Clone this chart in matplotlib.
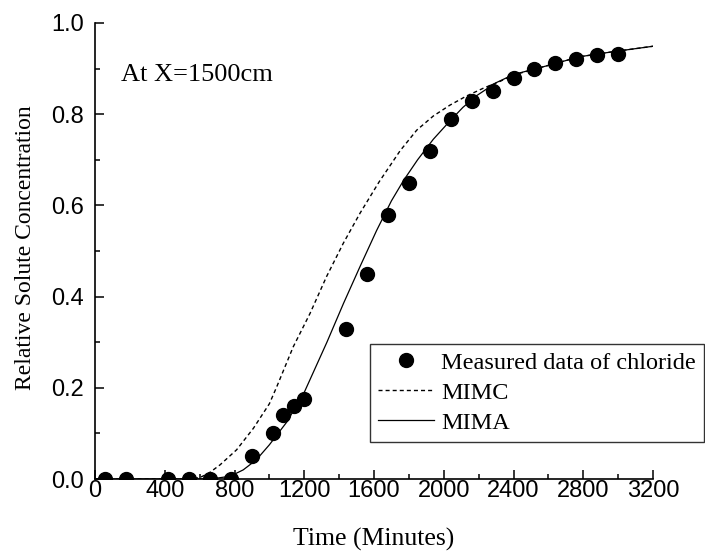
import matplotlib
matplotlib.use("Agg")
import matplotlib.pyplot as plt
from matplotlib.ticker import MultipleLocator, FormatStrFormatter

# measured chloride breakthrough at X = 1500 cm
t_meas = [60, 180, 420, 540, 660, 780, 900, 1020, 1080, 1140, 1200, 1440, 1560,
          1680, 1800, 1920, 2040, 2160, 2280, 2400, 2520, 2640, 2760, 2880, 3000]
c_meas = [0, 0, 0, 0, 0, 0, 0.05, 0.10, 0.14, 0.16, 0.175, 0.33, 0.45,
          0.58, 0.65, 0.72, 0.79, 0.83, 0.85, 0.88, 0.90, 0.913, 0.92, 0.93, 0.932]

# MIMC model curve
t_mimc = [0, 550, 600, 650, 717, 812, 908, 1000, 1042, 1137, 1233, 1328, 1424, 1520,
          1630, 1750, 1845, 1940, 2036, 2131, 2227, 2323, 2400, 2590, 2780, 2970, 3200]
c_mimc = [0, 0, 0.003, 0.012, 0.031, 0.064, 0.111, 0.165, 0.202, 0.29, 0.363, 0.444, 0.517, 0.583,
          0.652, 0.72, 0.765, 0.796, 0.82, 0.84, 0.857, 0.872, 0.886, 0.906, 0.926, 0.937, 0.949]

# MIMA model curve
t_mima = [0, 600, 700, 775, 850, 925, 1000, 1100, 1200, 1330, 1425, 1520, 1615,
          1700, 1770, 1850, 1940, 2035, 2110, 2190, 2300, 2400, 2590, 2780, 2970, 3200]
c_mima = [0, 0, 0.002, 0.006, 0.02, 0.042, 0.075, 0.125, 0.19, 0.30, 0.385, 0.466, 0.545,
          0.61, 0.655, 0.70, 0.745, 0.785, 0.815, 0.841, 0.869, 0.887, 0.906, 0.926, 0.937, 0.949]

serif = "Liberation Serif"
sans = "Liberation Sans"

fig = plt.figure(figsize=(7.05, 5.54), dpi=100)
ax = fig.add_axes([95 / 705, 75 / 554, 558 / 705, 456 / 554])

ax.plot(t_meas, c_meas, "o", color="black", markersize=10, label="Measured data of chloride")
ax.plot(t_mimc, c_mimc, color="black", lw=1.0, dashes=(2.9, 2.2), label="MIMC")
ax.plot(t_mima, c_mima, color="black", lw=0.9, label="MIMA")

ax.set_xlim(0, 3200)
ax.set_ylim(0, 1.0)
ax.xaxis.set_major_locator(MultipleLocator(400))
ax.xaxis.set_minor_locator(MultipleLocator(200))
ax.yaxis.set_major_locator(MultipleLocator(0.2))
ax.yaxis.set_minor_locator(MultipleLocator(0.1))
ax.yaxis.set_major_formatter(FormatStrFormatter("%.1f"))

for s in ["top", "right"]:
    ax.spines[s].set_visible(False)
for s in ["left", "bottom"]:
    ax.spines[s].set_linewidth(1.2)

ax.tick_params(which="both", direction="in", width=1.1, top=False, right=False)
ax.tick_params(which="major", length=6.5, labelsize=17)
ax.tick_params(axis="x", which="major", pad=1)
ax.tick_params(axis="y", which="major", pad=8)
ax.tick_params(which="minor", length=3.6)
for lab in ax.get_xticklabels() + ax.get_yticklabels():
    lab.set_fontfamily(sans)

ax.set_xlabel("Time (Minutes)", fontfamily=serif, fontsize=18.5, va="center")
ax.xaxis.set_label_coords(0.5, -0.1316)
ax.set_ylabel("Relative Solute Concentration", fontfamily=serif, fontsize=17, va="center")
ax.yaxis.set_label_coords(-0.1254, 0.508)

ax.text(0.0466, 0.886, "At X=1500cm", transform=ax.transAxes, fontfamily=serif,
        fontsize=19, va="center", ha="left")

leg = ax.legend(loc="lower left", bbox_to_anchor=(370 / 705, (554 - 441.7) / 554),
                bbox_transform=fig.transFigure, borderaxespad=0, fancybox=False,
                prop={"family": serif, "size": 17.5}, handlelength=2.3, handletextpad=0.3,
                borderpad=0.32, labelspacing=0.33, numpoints=1)
leg.get_frame().set_edgecolor("black")
leg.get_frame().set_linewidth(1.0)

fig.savefig("out.png", dpi=100)
